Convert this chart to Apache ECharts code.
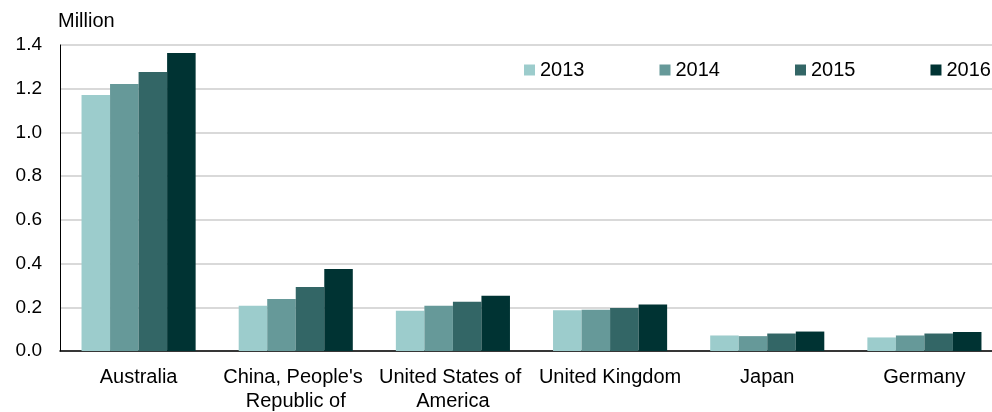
<!DOCTYPE html>
<html><head><meta charset="utf-8">
<script src="https://cdn.jsdelivr.net/npm/echarts@6/dist/echarts.min.js"></script>
<style>html,body{margin:0;padding:0;background:#fff}#c{width:992px;height:412px}</style>
</head><body><div id="c"></div>
<script>
const categories = ["Australia", "China, People's Republic of", "United States of America", "United Kingdom", "Japan", "Germany"];
const years = ["2013", "2014", "2015", "2016"];
const v2013 = [1.171, 0.207, 0.184, 0.186, 0.071, 0.062];
const v2014 = [1.221, 0.238, 0.207, 0.189, 0.068, 0.071];
const v2015 = [1.276, 0.293, 0.225, 0.197, 0.080, 0.080];
const v2016 = [1.363, 0.375, 0.253, 0.213, 0.089, 0.087];
const colors = ["#9ccccc", "#669999", "#336666", "#003333"];
const values = [v2013, v2014, v2015, v2016];
const font = "'Liberation Sans', Arial, sans-serif";
const chart = echarts.init(document.getElementById('c'));
chart.setOption({
  animation: false,
  textStyle: {fontFamily: font},
  grid: {left: 60, width: 943, top: 45, bottom: 61, outerBoundsMode: 'none', containLabel: false},
  legend: {
    left: 519, top: 55, width: 520, itemWidth: 11, itemHeight: 11, itemGap: 75, icon: 'rect',
    textStyle: {fontSize: 20, color: '#000', fontFamily: font},
    data: years
  },
  graphic: [{type: 'text', left: 58, top: 11, style: {text: 'Million', fontSize: 20, fill: '#000', fontFamily: font}}],
  xAxis: {
    type: 'category', data: categories,
    axisLine: {lineStyle: {color: '#000', width: 1.5}},
    axisTick: {show: false},
    axisLabel: {interval: 0, fontSize: 20, color: '#000', fontFamily: font, width: 160, overflow: 'break', lineHeight: 24, margin: 14}
  },
  yAxis: {
    type: 'value', min: 0, max: 1.4, interval: 0.2,
    axisLine: {show: true, lineStyle: {color: '#000', width: 1}},
    axisTick: {show: false},
    splitLine: {lineStyle: {color: '#d9d9d9', width: 2}},
    axisLabel: {fontSize: 19, color: '#000', fontFamily: font, margin: 18, formatter: v => v.toFixed(1)}
  },
  series: years.map((y, i) => ({
    name: y, type: 'bar', data: values[i],
    itemStyle: {color: colors[i]},
    barGap: '0%', barCategoryGap: '27.4%'
  }))
});
</script></body></html>
